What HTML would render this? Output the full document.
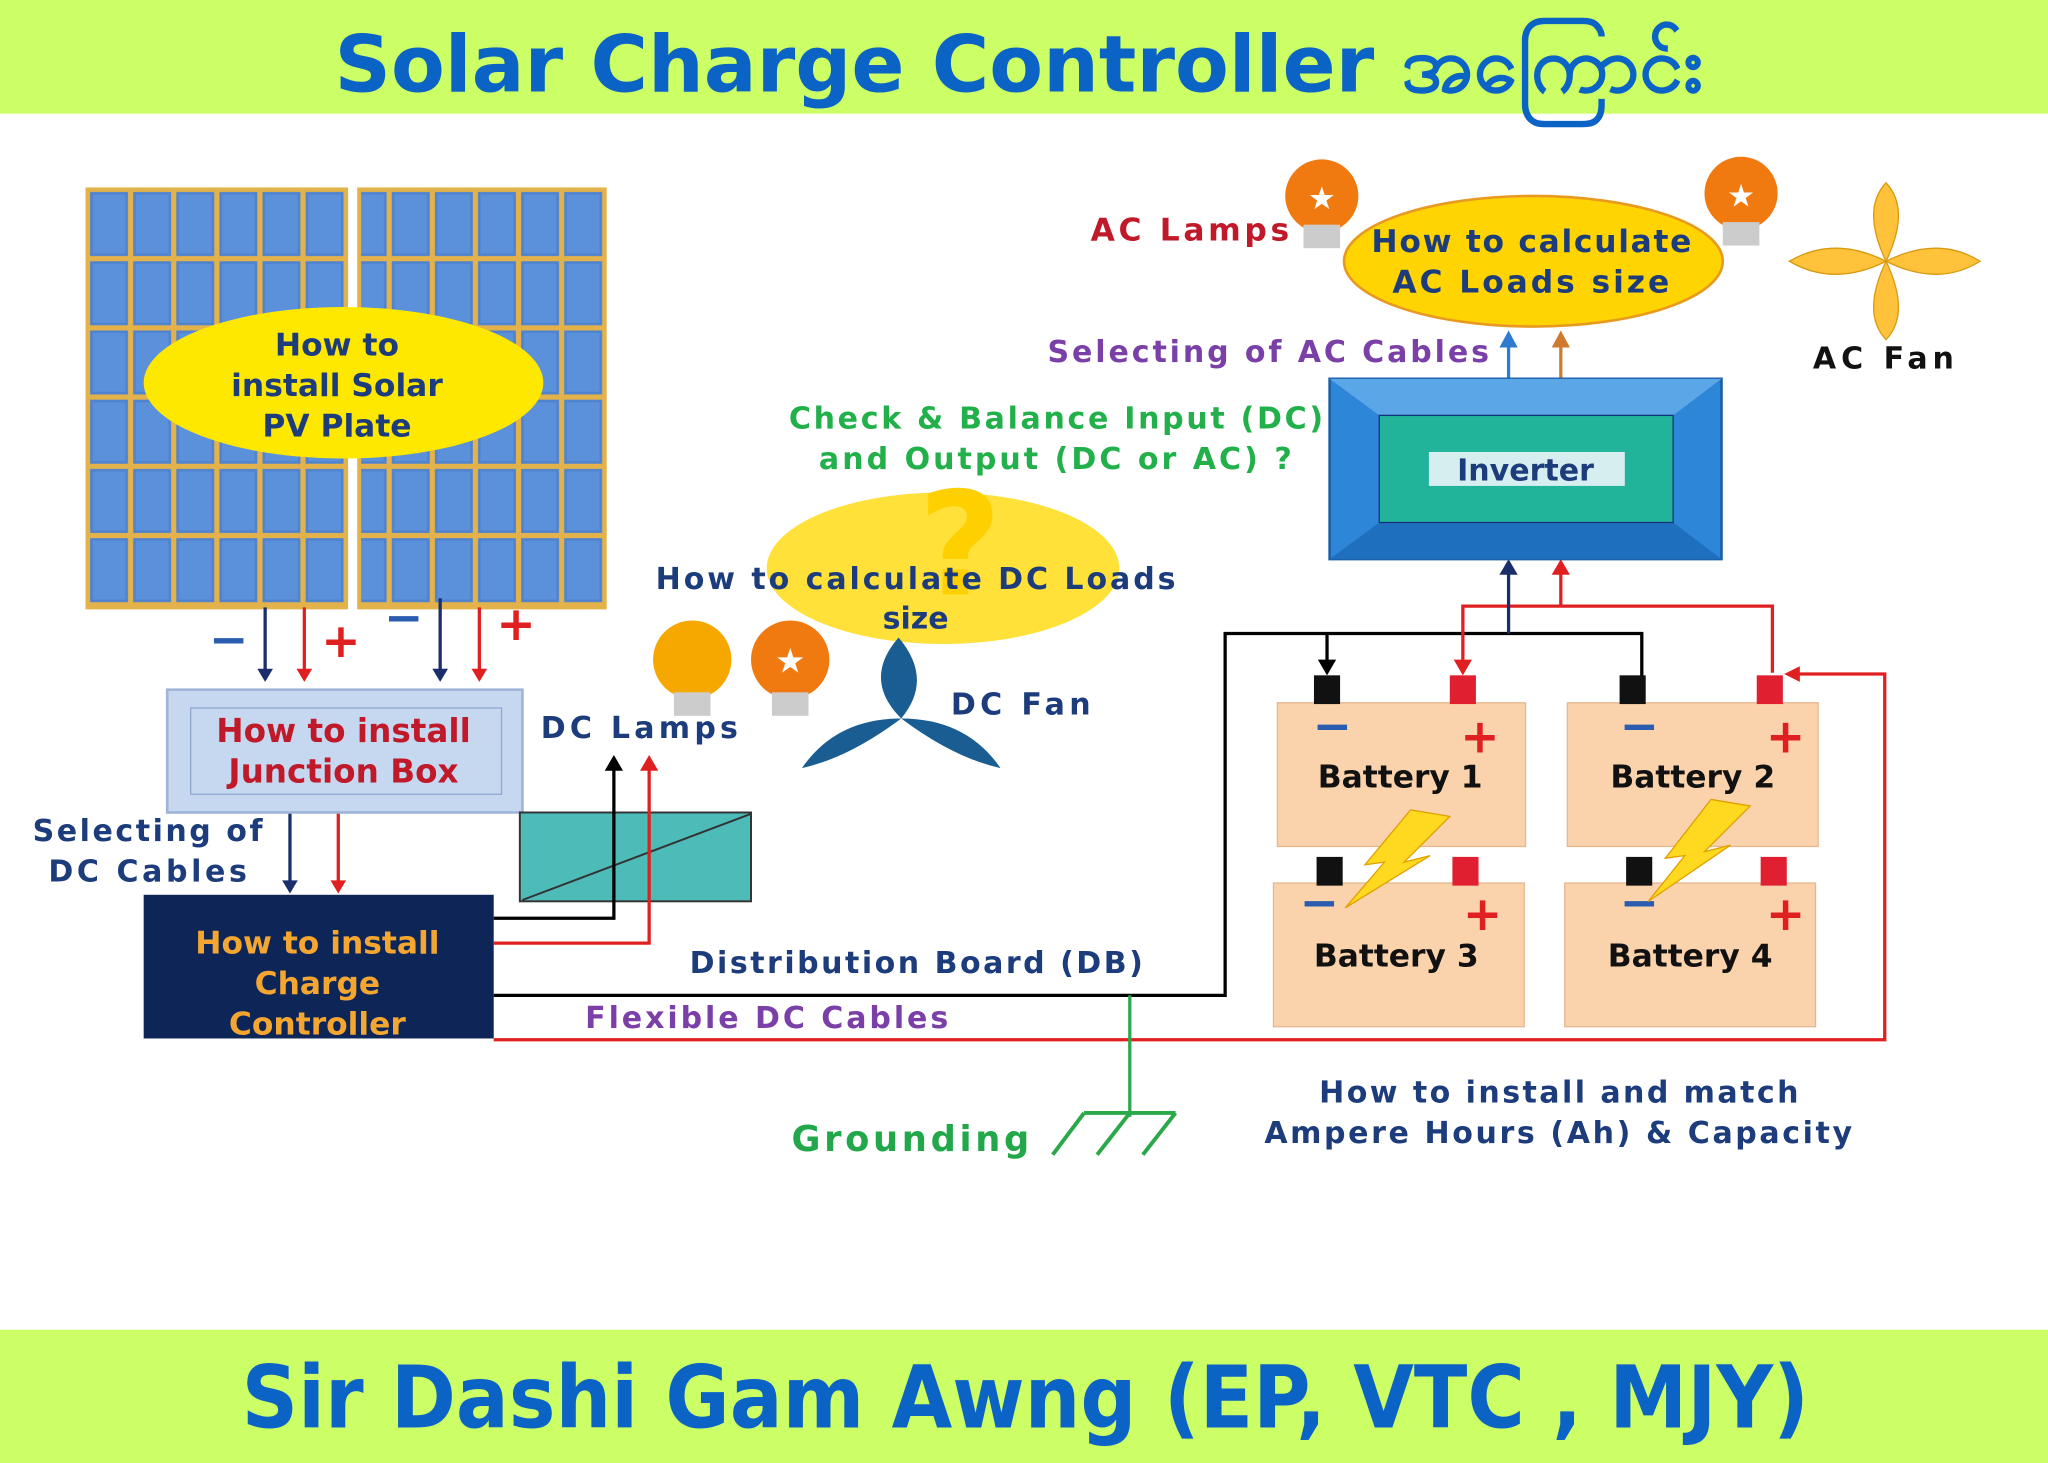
<!DOCTYPE html>
<html><head><meta charset="utf-8"><style>
html,body{margin:0;padding:0;background:#fff;}
svg{display:block}
text{font-family:"DejaVu Sans","Liberation Sans",sans-serif;font-weight:bold}
</style></head><body>
<svg width="2048" height="1463" viewBox="0 0 1568 1120" preserveAspectRatio="none" xmlns="http://www.w3.org/2000/svg">
<defs>
<pattern id="cells" x="67" y="145" width="33" height="53" patternUnits="userSpaceOnUse">
<rect width="33" height="53" fill="#e3b24a"/>
<rect x="2" y="2" width="29" height="49" fill="#4f83cf"/>
<rect x="4" y="4" width="25" height="45" fill="#5b90da"/>
</pattern>
</defs>
<rect x="0" y="0" width="1568" height="1120" fill="#fff"/>
<rect x="0" y="0" width="1568" height="87" fill="#ccff66"/>
<text x="780" y="70" font-size="60" fill="#0b63c5" text-anchor="middle" font-family="Liberation Sans, sans-serif">Solar Charge Controller အကြောင်း</text>
<rect x="0" y="1018" width="1568" height="102" fill="#ccff66"/>
<text x="185" y="1093" font-size="66" fill="#0b63c5" textLength="1200" lengthAdjust="spacingAndGlyphs">Sir Dashi Gam Awng (EP, VTC , MJY)</text>

<!-- panels -->
<rect x="67" y="145" width="198" height="320" fill="url(#cells)" stroke="#e3b24a" stroke-width="3"/>
<rect x="275" y="145" width="188" height="320" fill="url(#cells)" stroke="#e3b24a" stroke-width="3"/>
<ellipse cx="263" cy="293" rx="153" ry="58" fill="#ffe800"/>
<text text-anchor="middle" font-size="24" fill="#1c3c7c"><tspan x="258" y="272">How to</tspan><tspan x="258" y="303">install Solar</tspan><tspan x="258" y="334">PV Plate</tspan></text>

<g stroke-width="2.5" fill="none">
<line x1="203" y1="465" x2="203" y2="520" stroke="#1a2e6b"/><line x1="233" y1="465" x2="233" y2="520" stroke="#e02020"/>
<line x1="337" y1="458" x2="337" y2="520" stroke="#1a2e6b"/><line x1="367" y1="465" x2="367" y2="520" stroke="#e02020"/>
<line x1="222" y1="622" x2="222" y2="682" stroke="#1a2e6b"/><line x1="259" y1="622" x2="259" y2="682" stroke="#e02020"/>
</g>
<g fill="#1a2e6b"><path d="M197,512 L203,522 L209,512Z"/><path d="M331,512 L337,522 L343,512Z"/><path d="M216,674 L222,684 L228,674Z"/></g>
<g fill="#e02020"><path d="M227,512 L233,522 L239,512Z"/><path d="M361,512 L367,522 L373,512Z"/><path d="M253,674 L259,684 L265,674Z"/></g>
<g font-size="36" font-weight="bold">
<text x="160" y="502" fill="#2a5db0">−</text><text x="246" y="503" fill="#e02020">+</text>
<text x="294" y="485" fill="#2a5db0">−</text><text x="380" y="490" fill="#e02020">+</text>
</g>

<rect x="128" y="528" width="272" height="94" fill="#c6d8f0" stroke="#9fb4d8" stroke-width="2"/>
<rect x="146" y="542" width="238" height="66" fill="none" stroke="#90a8d0"/>
<text text-anchor="middle" font-size="25" fill="#c01a2a"><tspan x="263" y="568">How to install</tspan><tspan x="263" y="599">Junction Box</tspan></text>

<text font-size="23" fill="#1c3c7c"><tspan x="25" y="644" textLength="176">Selecting of</tspan><tspan x="37" y="675" textLength="152">DC Cables</tspan></text>

<rect x="110" y="685" width="268" height="110" fill="#0d2657"/>
<text text-anchor="middle" font-size="24" fill="#f4a630"><tspan x="243" y="730">How to install</tspan><tspan x="243" y="761">Charge</tspan><tspan x="243" y="792">Controller</tspan></text>

<rect x="398" y="622" width="177" height="68" fill="#4dbcb8" stroke="#333" stroke-width="1.5"/>
<line x1="400" y1="689" x2="575" y2="623" stroke="#333" stroke-width="1.5"/>
<g fill="none" stroke-width="2.5">
<polyline points="378,703 470,703 470,580" stroke="#000"/>
<polyline points="378,722 497,722 497,580" stroke="#e02020"/>
<polyline points="378,762 938,762 938,485 1257,485 1257,518" stroke="#000"/>
<polyline points="378,796 1443,796 1443,516 1370,516" stroke="#e02020"/>
<line x1="1016" y1="485" x2="1016" y2="515" stroke="#000"/>
<polyline points="1120,515 1120,464 1333,464 1357,464 1357,515" stroke="#e02020"/>
<line x1="1195" y1="464" x2="1195" y2="430" stroke="#e02020"/>
<line x1="1155" y1="485" x2="1155" y2="430" stroke="#1a2e6b"/>
<line x1="865" y1="762" x2="865" y2="855" stroke="#2aa84a"/>
<line x1="1155" y1="290" x2="1155" y2="258" stroke="#2e7bd0"/>
<line x1="1195" y1="290" x2="1195" y2="258" stroke="#d07a30"/>
</g>
<g fill="#000"><path d="M463,590 L470,578 L477,590Z"/><path d="M1009,505 L1016,517 L1023,505Z"/></g>
<path d="M1148,440 L1155,428 L1162,440Z" fill="#1a2e6b"/>
<g fill="#e02020"><path d="M490,590 L497,578 L504,590Z"/><path d="M1113,505 L1120,517 L1127,505Z"/><path d="M1188,440 L1195,428 L1202,440Z"/><path d="M1378,510 L1366,516 L1378,522Z"/></g>
<path d="M1148,266 L1155,253 L1162,266Z" fill="#2e7bd0"/><path d="M1188,266 L1195,253 L1202,266Z" fill="#d07a30"/>
<g stroke="#2aa84a" stroke-width="3"><line x1="830" y1="852" x2="900" y2="852"/><line x1="830" y1="852" x2="806" y2="884"/><line x1="865" y1="852" x2="840" y2="884"/><line x1="900" y1="852" x2="875" y2="884"/></g>

<text x="528" y="745" font-size="23" fill="#1c3c7c" textLength="347">Distribution Board (DB)</text>
<text x="448" y="787" font-size="23" fill="#7b3fa8" textLength="278">Flexible DC Cables</text>
<text x="606" y="881" font-size="27" fill="#22a84a" textLength="182">Grounding</text>
<text x="414" y="565" font-size="23" fill="#1c3c7c" textLength="151">DC Lamps</text>

<ellipse cx="722" cy="435" rx="135" ry="58" fill="#ffe13a"/>
<text x="735" y="455" font-size="110" fill="#ffd000" text-anchor="middle">?</text>
<text x="502" y="451" font-size="23" fill="#1c3c7c" textLength="398">How to calculate DC Loads</text>
<text x="701" y="481" font-size="23" fill="#1c3c7c" text-anchor="middle">size</text>
<text font-size="23" fill="#22b04a"><tspan x="604" y="328" textLength="409">Check &amp; Balance Input (DC)</tspan><tspan x="627" y="359" textLength="362">and Output (DC or AC) ?</tspan></text>

<g>
<circle cx="530" cy="505" r="30" fill="#f7a800"/><rect x="516" y="530" width="28" height="18" fill="#ccc"/>
<circle cx="605" cy="505" r="30" fill="#f07a10"/><rect x="591" y="530" width="28" height="18" fill="#ccc"/>
<text x="605" y="515" font-size="26" fill="#fff" text-anchor="middle">★</text>
<circle cx="1012" cy="150" r="28" fill="#f07a10"/><rect x="998" y="172" width="28" height="18" fill="#ccc"/>
<text x="1012" y="160" font-size="24" fill="#fff" text-anchor="middle">★</text>
<circle cx="1333" cy="148" r="28" fill="#f07a10"/><rect x="1319" y="170" width="28" height="18" fill="#ccc"/>
<text x="1333" y="158" font-size="24" fill="#fff" text-anchor="middle">★</text>
</g>
<g fill="#1a5d92">
<path d="M690,550 Q660,520 688,488 Q715,520 690,550Z"/>
<path d="M690,550 Q650,580 614,588 Q640,550 690,550Z"/>
<path d="M690,550 Q730,580 766,588 Q740,550 690,550Z"/>
</g>
<text x="728" y="547" font-size="23" fill="#1c3c7c" textLength="107">DC Fan</text>
<g fill="#ffc23a" stroke="#d89a10" stroke-width="1">
<path d="M1444,200 Q1425,160 1444,140 Q1463,160 1444,200Z"/>
<path d="M1444,200 Q1425,240 1444,260 Q1463,240 1444,200Z"/>
<path d="M1444,200 Q1404,180 1370,200 Q1404,220 1444,200Z"/>
<path d="M1444,200 Q1484,180 1516,200 Q1484,220 1444,200Z"/>
</g>
<text x="1388" y="282" font-size="23" fill="#111" textLength="108">AC Fan</text>

<ellipse cx="1174" cy="200" rx="145" ry="50" fill="#ffd400" stroke="#e89a20" stroke-width="2"/>
<text font-size="24" fill="#1c3c7c"><tspan x="1050" y="193" textLength="245">How to calculate</tspan><tspan x="1066" y="224" textLength="212">AC Loads size</tspan></text>
<text x="835" y="184" font-size="24" fill="#c01a2a" textLength="152">AC Lamps</text>
<text x="802" y="277" font-size="23" fill="#7b3fa8" textLength="338">Selecting of AC Cables</text>

<rect x="1018" y="290" width="300" height="138" fill="#2e86d8" stroke="#1b5fa8" stroke-width="2"/>
<polygon points="1018,290 1318,290 1281,318 1056,318" fill="#5aa6e6"/>
<polygon points="1018,428 1318,428 1281,400 1056,400" fill="#1f6fbf"/>
<rect x="1056" y="318" width="225" height="82" fill="#22b49a" stroke="#137" stroke-width="1"/>
<rect x="1094" y="346" width="150" height="26" fill="#d6eef0"/>
<text x="1168" y="368" font-size="23" fill="#1c3c7c" text-anchor="middle">Inverter</text>

<g fill="#fad2ac" stroke="#e6b890" stroke-width="1">
<rect x="978" y="538" width="190" height="110"/><rect x="1200" y="538" width="192" height="110"/>
<rect x="975" y="676" width="192" height="110"/><rect x="1198" y="676" width="192" height="110"/>
</g>
<g fill="#111"><rect x="1006" y="517" width="20" height="22"/><rect x="1240" y="517" width="20" height="22"/><rect x="1008" y="656" width="20" height="22"/><rect x="1245" y="656" width="20" height="22"/></g>
<g fill="#e02030"><rect x="1110" y="517" width="20" height="22"/><rect x="1345" y="517" width="20" height="22"/><rect x="1112" y="656" width="20" height="22"/><rect x="1348" y="656" width="20" height="22"/></g>
<g font-size="36"><text x="1118" y="576" fill="#e02020">+</text><text x="1352" y="576" fill="#e02020">+</text><text x="1120" y="712" fill="#e02020">+</text><text x="1352" y="712" fill="#e02020">+</text>
<text x="1005" y="568" fill="#2a5db0">−</text><text x="1240" y="568" fill="#2a5db0">−</text><text x="995" y="703" fill="#2a5db0">−</text><text x="1240" y="703" fill="#2a5db0">−</text></g>
<g font-size="24" fill="#111" text-anchor="middle"><text x="1072" y="603">Battery 1</text><text x="1296" y="603">Battery 2</text><text x="1069" y="740">Battery 3</text><text x="1294" y="740">Battery 4</text></g>
<polygon points="1080,620 1110,625 1075,660 1095,655 1030,695 1060,660 1045,662" fill="#ffd820" stroke="#e0a000"/>
<polygon points="1310,612 1340,617 1305,652 1325,647 1262,690 1290,655 1275,657" fill="#ffd820" stroke="#e0a000"/>
<text font-size="23" fill="#1c3c7c"><tspan x="1010" y="844" textLength="367">How to install and match</tspan><tspan x="968" y="875" textLength="450">Ampere Hours (Ah) &amp; Capacity</tspan></text>
</svg>
</body></html>
